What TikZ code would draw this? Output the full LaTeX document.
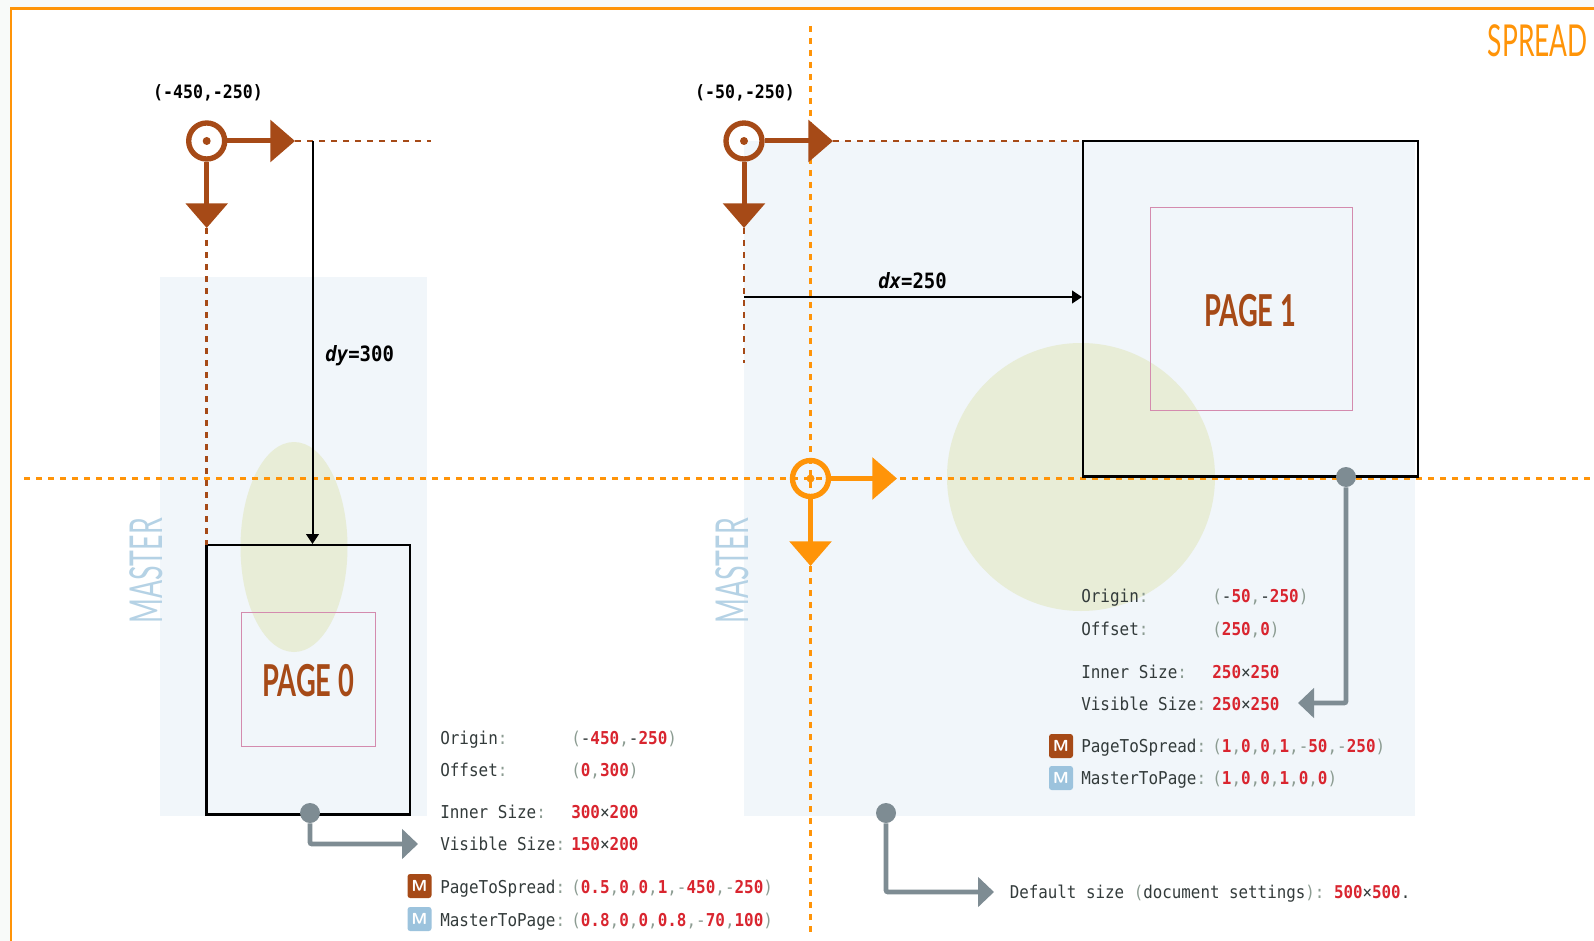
\documentclass[tikz,border=0pt]{standalone}
\usepackage{fontspec}
\usetikzlibrary{arrows.meta}
\setmonofont[FakeStretch=0.9]{DejaVu Sans Mono}
\newfontfamily\condfont[FakeStretch=0.62]{Lato}
\newfontfamily\spreadfont[FakeStretch=0.6]{Lato}
\newfontfamily\masterfont[FakeStretch=0.59]{Lato}
\definecolor{oranget}{HTML}{FF9408}
\definecolor{brownt}{HTML}{A64A17}
\definecolor{masterbg}{HTML}{F1F6FA}
\definecolor{mastertxt}{HTML}{B5D2E5}
\definecolor{olivet}{HTML}{E8EDD7}
\definecolor{pinkt}{HTML}{D48BAE}
\definecolor{grayt}{HTML}{7E8C93}
\definecolor{redv}{HTML}{D9252F}
\definecolor{punct}{HTML}{8C9C92}
\definecolor{labelt}{HTML}{333B3B}
\definecolor{iconblue}{HTML}{9CC3DD}
\definecolor{pagebg}{HTML}{F8FAF9}
\newcommand{\rv}[1]{\textcolor{redv}{\bfseries #1}}
\newcommand{\gv}[1]{\textcolor{punct}{#1}}
\newcommand{\lb}[1]{#1\gv{:}}
\newcommand{\tline}[4]{\node[txt] (#1) at (#2,#3) {#4};}
\tikzset{
 x=0.75pt,y=-0.75pt,
 txt/.style={anchor=base west,inner sep=0pt,text=labelt,font=\ttfamily\fontsize{13.3pt}{15pt}\selectfont},
 coordtxt/.style={anchor=base,inner sep=0pt,text=black,font=\ttfamily\bfseries\fontsize{13.8pt}{15pt}\selectfont},
 dimtxt/.style={anchor=base west,inner sep=0pt,text=black,font=\ttfamily\bfseries\fontsize{15.8pt}{17pt}\selectfont},
 titletxt/.style={inner sep=0pt,font=\condfont\bfseries\fontsize{33pt}{36pt}\selectfont},
 masterlbl/.style={inner sep=0pt,rotate=90,text=mastertxt,font=\masterfont\fontsize{34pt}{36pt}\selectfont},
 origin/.style={circle,draw=#1,line width=4pt,minimum size=27pt,inner sep=0pt},
 origindot/.style={circle,fill=#1,minimum size=6pt,inner sep=0pt},
 axisarrow/.style={draw=#1,fill=#1,line width=3.75pt,-{Triangle[length=18.5pt,width=31pt,color=#1]}},
 guide/.style={draw=brownt,line width=1.9pt,dash pattern=on 4.5pt off 4.5pt},
 axisline/.style={draw=oranget,line width=1.9pt,dash pattern=on 4.5pt off 4.5pt},
 dimarrow/.style={draw=black,line width=1.5pt,-{Triangle[length=7.5pt,width=9.5pt]}},
 pagebox/.style={draw=black,line width=2.2pt,inner sep=0pt,outer sep=0pt},
 innerbox/.style={draw=pinkt,line width=.75pt,inner sep=0pt,outer sep=0pt},
 graydot/.style={circle,fill=grayt,minimum size=15pt,inner sep=0pt},
 grayarrow/.style={draw=grayt,line width=3.6pt,rounded corners=1.5pt,-{Triangle[length=12pt,width=22pt,color=grayt]}},
 icon/.style={rounded corners=2pt,fill=#1,minimum size=18pt,inner sep=0pt,text=white,font=\sffamily\bfseries\fontsize{12pt}{12pt}\selectfont},
}
\begin{document}
\begin{tikzpicture}
\useasboundingbox (0,0) rectangle (1594,941);
\fill[pagebg] (0,0) rectangle (1594,941);
\fill[white] (11,8.5) rectangle (1594,941);
\draw[oranget,line width=2.2pt] (11,941) -- (11,8.5) -- (1594,8.5);
% master backgrounds
\fill[masterbg] (160,277) rectangle (427,816);
\fill[masterbg] (744,141) rectangle (1414.5,816);
\node[masterlbl,anchor=center] (ml) at (146,571) {MASTER};
\node[masterlbl,anchor=center] (mr) at (732,571) {MASTER};
% ellipses
\fill[olivet] (294,547) ellipse [x radius=53.5,y radius=105];
\fill[olivet] (1081,477) circle [radius=134];
% spread axes
\coordinate (hl) at (24,478.7);
\coordinate (hr) at (1594,478.7);
\coordinate (vt) at (810.5,26);
\coordinate (vb) at (810.5,932);
\draw[axisline] (hl) -- (hr);
\draw[axisline] (vt) -- (vb);
% pages
\node[pagebox,anchor=north west,minimum width=152.6pt,minimum height=202pt] (p0) at (206.5,545) {};
\node[innerbox,anchor=north west,minimum width=100.5pt,minimum height=101pt] (i0) at (241,612) {};
\node[titletxt,text=brownt] (t0) at (308,681) {PAGE 0};
\node[pagebox,anchor=north west,minimum width=251.25pt,minimum height=251.6pt] (p1) at (1083,141) {};
\node[innerbox,anchor=north west,minimum width=151.5pt,minimum height=151.5pt] (i1) at (1150,208) {};
\node[titletxt,text=brownt] (t1) at (1250,311) {PAGE 1};
\node[titletxt,text=oranget,anchor=east,font=\spreadfont\fontsize{33pt}{36pt}\selectfont] (sp) at (1588,41) {SPREAD};
% brown origin left
\node[origin=brownt] (oa) at (206.7,141) {};
\node[origindot=brownt] (oad) at (206.7,141) {};
\coordinate (oax) at (295,141);
\coordinate (oay) at (206.7,228);
\coordinate (oaxe) at (431,141);
\coordinate (oaye) at (206.7,545);
\draw[guide] (oax) -- (oaxe);
\draw[guide] (oay) -- (oaye);
\draw[axisarrow=brownt] (oa) -- (oax);
\draw[axisarrow=brownt] (oa) -- (oay);
\node[coordtxt] (la) at (208,98.5) {(-450,-250)};
\coordinate (dy0) at (312.5,141);
\coordinate (dy1) at (312.5,544);
\draw[dimarrow] (dy0) -- (dy1);
\node[dimtxt] (dya) at (325,361) {\textit{dy}=300};
% brown origin right
\node[origin=brownt] (ob) at (744,141) {};
\node[origindot=brownt] (obd) at (744,141) {};
\coordinate (obx) at (833,141);
\coordinate (oby) at (744,228);
\coordinate (obye) at (744,363);
\draw[guide] (obx) -- (p1.north west);
\draw[guide] (oby) -- (obye);
\draw[axisarrow=brownt] (ob) -- (obx);
\draw[axisarrow=brownt] (ob) -- (oby);
\node[coordtxt] (lb) at (745,98.5) {(-50,-250)};
\coordinate (dx0) at (744,297);
\coordinate (dx1) at (1082,297);
\draw[dimarrow] (dx0) -- (dx1);
\node[dimtxt] (dxa) at (878,288) {\textit{dx}=250};
% orange origin
\node[origin=oranget] (oc) at (810.5,478.5) {};
\node[origindot=oranget] (ocd) at (810.5,478.5) {};
\coordinate (ocx) at (897,478.5);
\coordinate (ocy) at (810.5,566);
\draw[axisarrow=oranget] (oc) -- (ocx);
\draw[axisarrow=oranget] (oc) -- (ocy);
% gray callouts
\node[graydot] (g0) at (310,813) {};
\coordinate (g0t) at (418,844);
\draw[grayarrow] (g0) |- (g0t);
\node[graydot] (g1) at (1346,477) {};
\coordinate (g1t) at (1298,703);
\draw[grayarrow] (g1) |- (g1t);
\node[graydot] (g2) at (886,813) {};
\coordinate (g2t) at (994,892);
\draw[grayarrow] (g2) |- (g2t);
% left text
\tline{a1}{440}{744}{\lb{Origin}}
\tline{a2}{571}{744}{\gv{(}-\rv{450}\gv{,}-\rv{250}\gv{)}}
\tline{a3}{440}{776}{\lb{Offset}}
\tline{a4}{571}{776}{\gv{(}\rv{0}\gv{,}\rv{300}\gv{)}}
\tline{a5}{440}{818}{\lb{Inner Size}}
\tline{a6}{571}{818}{\rv{300}×\rv{200}}
\tline{a7}{440}{850}{\lb{Visible Size}}
\tline{a8}{571}{850}{\rv{150}×\rv{200}}
\node[icon=brownt] (ia) at (419.5,886) {M};
\tline{a9}{440}{893}{\lb{PageToSpread}}
\tline{a10}{571}{893}{\gv{(}\rv{0.5}\gv{,}\rv{0}\gv{,}\rv{0}\gv{,}\rv{1}\gv{,-}\rv{450}\gv{,-}\rv{250}\gv{)}}
\node[icon=iconblue] (ib) at (419.5,919) {M};
\tline{a11}{440}{926}{\lb{MasterToPage}}
\tline{a12}{571}{926}{\gv{(}\rv{0.8}\gv{,}\rv{0}\gv{,}\rv{0}\gv{,}\rv{0.8}\gv{,-}\rv{70}\gv{,}\rv{100}\gv{)}}
% right text
\tline{b1}{1081}{602}{\lb{Origin}}
\tline{b2}{1212}{602}{\gv{(}-\rv{50}\gv{,}-\rv{250}\gv{)}}
\tline{b3}{1081}{635}{\lb{Offset}}
\tline{b4}{1212}{635}{\gv{(}\rv{250}\gv{,}\rv{0}\gv{)}}
\tline{b5}{1081}{678}{\lb{Inner Size}}
\tline{b6}{1212}{678}{\rv{250}×\rv{250}}
\tline{b7}{1081}{710}{\lb{Visible Size}}
\tline{b8}{1212}{710}{\rv{250}×\rv{250}}
\node[icon=brownt] (ic) at (1061,746) {M};
\tline{b9}{1081}{752}{\lb{PageToSpread}}
\tline{b10}{1212}{752}{\gv{(}\rv{1}\gv{,}\rv{0}\gv{,}\rv{0}\gv{,}\rv{1}\gv{,-}\rv{50}\gv{,-}\rv{250}\gv{)}}
\node[icon=iconblue] (id) at (1061,778) {M};
\tline{b11}{1081}{784}{\lb{MasterToPage}}
\tline{b12}{1212}{784}{\gv{(}\rv{1}\gv{,}\rv{0}\gv{,}\rv{0}\gv{,}\rv{1}\gv{,}\rv{0}\gv{,}\rv{0}\gv{)}}
\node[txt,font=\ttfamily\fontsize{13.2pt}{15pt}\selectfont] (c1) at (1009.5,898) {Default size \gv{(}document settings\gv{)}\gv{:} \rv{500}×\rv{500}\textcolor{labelt}{.}};
\end{tikzpicture}
\end{document}
